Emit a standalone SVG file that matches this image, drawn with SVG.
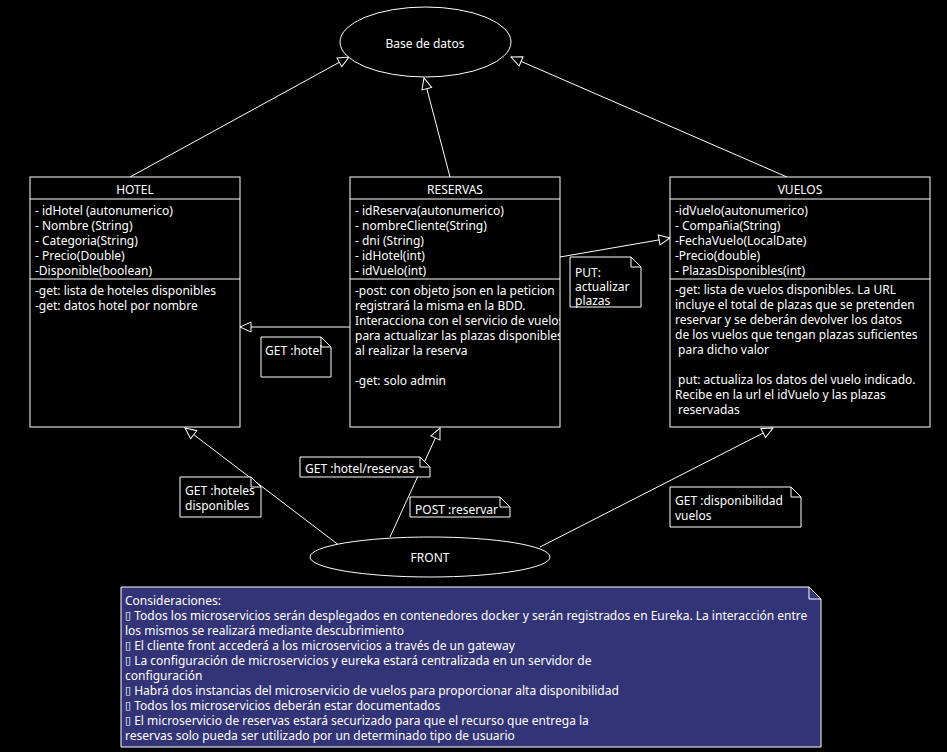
<svg xmlns="http://www.w3.org/2000/svg" width="947" height="752" viewBox="0 0 947 752">
  <style>
    text { font-family: "Noto Sans", "Open Sans", sans-serif; font-size: 12px; fill: #ffffff; dominant-baseline: central; }
    .mid { text-anchor: middle; }
    .bul { font-family: "DejaVu Sans", sans-serif; font-size: 11px; }
    .box { fill: #000000; stroke: #ffffff; stroke-width: 1; }
    .div { stroke: #ffffff; stroke-width: 1; fill: none; }
    .edge { stroke: #ffffff; stroke-width: 1; fill: none; marker-end: url(#hollow); }
    .note { fill: #000000; stroke: #ffffff; stroke-width: 1; }
    .fold { fill: none; stroke: #ffffff; stroke-width: 1; }
    .cons { fill: #333377; stroke: #ffffff; stroke-width: 1; }
  </style>
  <defs>
    <marker id="hollow" viewBox="0 0 13 12" refX="12" refY="6" markerWidth="13" markerHeight="12" markerUnits="userSpaceOnUse" orient="auto">
      <path d="M1,1 L12,6 L1,11 Z" fill="#000000" stroke="#ffffff" stroke-width="1"/>
    </marker>
    <clipPath id="clipReservas"><rect x="350" y="177" width="210" height="250"/></clipPath>
  </defs>

  <rect width="947" height="752" fill="#000000"/>

  <!-- connectors -->
  <g id="connectors">
    <line class="edge" x1="130" y1="177" x2="349" y2="57"/>
    <line class="edge" x1="450" y1="177" x2="424" y2="78"/>
    <line class="edge" x1="787" y1="177" x2="511" y2="57"/>
    <line class="edge" x1="350" y1="327" x2="240" y2="327"/>
    <line class="edge" x1="560" y1="257" x2="670" y2="238"/>
    <line class="edge" x1="340" y1="546" x2="185" y2="428"/>
    <line class="edge" x1="390" y1="537" x2="440" y2="428"/>
    <line class="edge" x1="540" y1="547" x2="773" y2="428"/>
  </g>

  <g id="db">
    <ellipse class="box" cx="425.5" cy="42" rx="85.5" ry="35"/>
    <text class="mid" x="425" y="43">Base de datos</text>
  </g>

  <g id="hotel">
    <rect class="box" x="30" y="177" width="210" height="250"/>
    <line class="div" x1="30" y1="199" x2="240" y2="199"/>
    <line class="div" x1="30" y1="279" x2="240" y2="279"/>
    <text class="mid" x="135" y="189">HOTEL</text>
    <text x="35" y="210">- idHotel (autonumerico)</text>
    <text x="35" y="225">- Nombre (String)</text>
    <text x="35" y="240">- Categoria(String)</text>
    <text x="35" y="255">- Precio(Double)</text>
    <text x="35" y="270">-Disponible(boolean)</text>
    <text x="35" y="290">-get: lista de hoteles disponibles</text>
    <text x="35" y="305">-get: datos hotel por nombre</text>
  </g>

  <g id="reservas">
    <rect class="box" x="350" y="177" width="210" height="250"/>
    <line class="div" x1="350" y1="199" x2="560" y2="199"/>
    <line class="div" x1="350" y1="279" x2="560" y2="279"/>
    <text class="mid" x="455" y="189">RESERVAS</text>
    <g clip-path="url(#clipReservas)">
      <text x="355" y="210">- idReserva(autonumerico)</text>
      <text x="355" y="225">- nombreCliente(String)</text>
      <text x="355" y="240">- dni (String)</text>
      <text x="355" y="255">- idHotel(int)</text>
      <text x="355" y="270">- idVuelo(int)</text>
      <text x="355" y="290">-post: con objeto json en la peticion</text>
      <text x="355" y="305">registrará la misma en la BDD.</text>
      <text x="355" y="320">Interacciona con el servicio de vuelos</text>
      <text x="355" y="335">para actualizar las plazas disponibles</text>
      <text x="355" y="350">al realizar la reserva</text>
      <text x="355" y="380">-get: solo admin</text>
    </g>
  </g>

  <g id="vuelos">
    <rect class="box" x="670" y="177" width="260" height="250"/>
    <line class="div" x1="670" y1="199" x2="930" y2="199"/>
    <line class="div" x1="670" y1="279" x2="930" y2="279"/>
    <text class="mid" x="800" y="189">VUELOS</text>
    <text x="675" y="210">-idVuelo(autonumerico)</text>
    <text x="675" y="225">- Compañia(String)</text>
    <text x="675" y="240">-FechaVuelo(LocalDate)</text>
    <text x="675" y="255">-Precio(double)</text>
    <text x="675" y="270">- PlazasDisponibles(int)</text>
    <text x="675" y="289">-get: lista de vuelos disponibles. La URL</text>
    <text x="675" y="304">incluye el total de plazas que se pretenden</text>
    <text x="675" y="319">reservar y se deberán devolver los datos</text>
    <text x="675" y="334">de los vuelos que tengan plazas suficientes</text>
    <text x="675" y="349" xml:space="preserve"> para dicho valor</text>
    <text x="675" y="379" xml:space="preserve"> put: actualiza los datos del vuelo indicado.</text>
    <text x="675" y="394">Recibe en la url el idVuelo y las plazas</text>
    <text x="675" y="409" xml:space="preserve"> reservadas</text>
  </g>

  <g id="front">
    <ellipse class="box" cx="430" cy="557" rx="120" ry="20"/>
    <text class="mid" x="430" y="557">FRONT</text>
  </g>

  <g id="note-get-hotel">
    <path class="note" d="M261,337 H321 L331,347 V377 H261 Z"/>
    <path class="fold" d="M321,337 V347 H331"/>
    <text x="265" y="350">GET :hotel</text>
  </g>

  <g id="note-put">
    <path class="note" d="M570,257 H631 L641,267 V307 H570 Z"/>
    <path class="fold" d="M631,257 V267 H641"/>
    <text x="575" y="272">PUT:</text>
    <text x="575" y="286">actualizar</text>
    <text x="575" y="300">plazas</text>
  </g>

  <g id="note-get-hoteles">
    <path class="note" d="M180,477 H251 L261,487 V517 H180 Z"/>
    <path class="fold" d="M251,477 V487 H261"/>
    <text x="185" y="490">GET :hoteles</text>
    <text x="185" y="505">disponibles</text>
  </g>

  <g id="note-get-reservas">
    <path class="note" d="M300,457 H420 L430,467 V477 H300 Z"/>
    <path class="fold" d="M420,457 V467 H430"/>
    <text x="305" y="468">GET :hotel/reservas</text>
  </g>

  <g id="note-post">
    <path class="note" d="M410,497 H500 L510,507 V517 H410 Z"/>
    <path class="fold" d="M500,497 V507 H510"/>
    <text x="415" y="509">POST :reservar</text>
  </g>

  <g id="note-get-vuelos">
    <path class="note" d="M670,487 H791 L801,497 V527 H670 Z"/>
    <path class="fold" d="M791,487 V497 H801"/>
    <text x="675" y="500">GET :disponibilidad</text>
    <text x="675" y="515">vuelos</text>
  </g>

  <g id="consideraciones">
    <path class="cons" d="M121,587 H809 L821,599 V747 H121 Z"/>
    <path class="fold" d="M809,587 V599 H821"/>
    <text x="125" y="600">Consideraciones:</text>
    <text x="125" y="615"><tspan class="bul">▯</tspan> Todos los microservicios serán desplegados en contenedores docker y serán registrados en Eureka. La interacción entre</text>
    <text x="125" y="630">los mismos se realizará mediante descubrimiento</text>
    <text x="125" y="645"><tspan class="bul">▯</tspan> El cliente front accederá a los microservicios a través de un gateway</text>
    <text x="125" y="660"><tspan class="bul">▯</tspan> La configuración de microservicios y eureka estará centralizada en un servidor de</text>
    <text x="125" y="675">configuración</text>
    <text x="125" y="690"><tspan class="bul">▯</tspan> Habrá dos instancias del microservicio de vuelos para proporcionar alta disponibilidad</text>
    <text x="125" y="705"><tspan class="bul">▯</tspan> Todos los microservicios deberán estar documentados</text>
    <text x="125" y="720"><tspan class="bul">▯</tspan> El microservicio de reservas estará securizado para que el recurso que entrega la</text>
    <text x="125" y="735">reservas solo pueda ser utilizado por un determinado tipo de usuario</text>
  </g>
</svg>
